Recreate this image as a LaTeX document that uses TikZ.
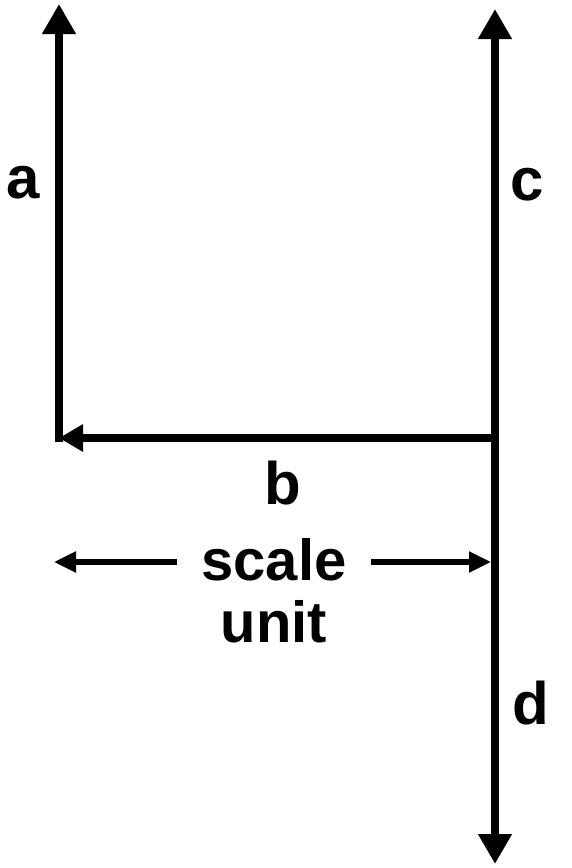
\documentclass[tikz,border=0pt]{standalone}
\usepackage{fontspec}
\setmainfont{Liberation Sans}
\usepackage{tikz}
\usetikzlibrary{calc, arrows.meta, positioning}

\begin{document}
\begin{tikzpicture}[
      x=0.5pt, y=-0.5pt,
      vec/.style={line width=4pt, line cap=rect, -{Triangle[width=16pt,length=15pt]}},
      backvec/.style={line width=4pt, -{Triangle[width=13pt,length=12pt]}},
      scalearr/.style={line width=2.6pt, -{Triangle[width=10pt,length=11pt]}},
      lbl/.style={font=\fontsize{30}{32}\selectfont\bfseries, inner sep=0pt},
      sclbl/.style={font=\fontsize{29}{31}\selectfont\bfseries, inner xsep=12pt, inner ysep=0pt}
    ]
    \useasboundingbox (0,0) rectangle (572,868);

    \coordinate (O)    at (59,438);
    \coordinate (R)    at (495,438);
    \coordinate (atop) at (59,4);
    \coordinate (ctop) at (495,9);
    \coordinate (dbot) at (495,864);

    \draw[vec] (O) -- (atop);
    \draw[vec] (R) -- (ctop);
    \draw[vec] (R) -- (dbot);
    \draw[backvec] (R) -- (O);

    \node[lbl] (a) at (23,183) {a};
    \node[lbl] (c) at (527,185) {c};
    \node[lbl] (b) at (283,483) {b};
    \node[lbl] (d) at (531,703) {d};

    \node[sclbl] (scale) at (274,560) {scale};
    \node[sclbl, below=9pt of scale] (unit) {unit};
    \coordinate (sleft)  at (54,562);
    \coordinate (sright) at (491,562);

    \draw[scalearr] (scale.west |- sleft) -- (sleft);
    \draw[scalearr] (scale.east |- sright) -- (sright);
  \end{tikzpicture}
\end{document}
